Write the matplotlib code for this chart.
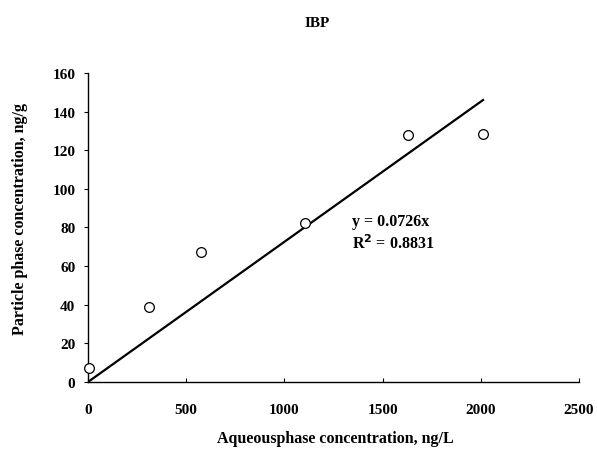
import numpy as np
import matplotlib.pyplot as plt

# values
aqueous = [5, 311, 577, 1104, 1628, 2011]          # ng/L
particle = [7, 39, 67.5, 82.5, 127.7, 128.2]       # ng/g
slope = 0.0726
r2 = 0.8831
xticks = [0, 500, 1000, 1500, 2000, 2500]
yticks = [0, 20, 40, 60, 80, 100, 120, 140, 160]

plt.rcParams['font.family'] = 'Liberation Serif'
plt.rcParams['font.weight'] = 'bold'

fig = plt.figure(figsize=(5.97, 4.52), dpi=100)
ax = fig.add_axes([0.1474, 0.1527, 0.8226, 0.6836])

# linear trend line through origin, up to the largest x
x_fit = np.array([0, max(aqueous)])
ax.plot(x_fit, slope * x_fit, color='black', lw=1.6, zorder=2)
ax.plot(aqueous, particle, 'o', ms=7, mfc='white', mec='black', mew=0.9,
        zorder=3, clip_on=False)

ax.set_xlim(0, 2500)
ax.set_ylim(0, 160)
ax.set_xticks(xticks)
ax.set_yticks(yticks)
ax.tick_params(axis='x', direction='in', length=3, pad=15, labelsize=11)
ax.tick_params(axis='y', direction='out', length=3, pad=6, labelsize=11)
for lbl in ax.get_xticklabels() + ax.get_yticklabels():
    lbl.set_fontweight('bold')

for side in ['top', 'right']:
    ax.spines[side].set_visible(False)
for side in ['left', 'bottom']:
    ax.spines[side].set_linewidth(1.0)

ax.text(1343, 83.4, f"y = {slope}x", fontsize=11.5, fontweight='bold',
        ha='left', va='center')
ax.text(1343, 72, f"R$^{{2}}$ = {r2}", fontsize=11.5, fontweight='bold',
        ha='left', va='center')

fig.text(0.531, 0.949, "IBP", ha='center', va='center', fontsize=11,
         fontweight='bold')
fig.text(0.562, 0.028, "Aqueousphase concentration, ng/L", ha='center',
         va='center', fontsize=11.5, fontweight='bold')
fig.text(0.034, 0.515, "Particle phase concentration, ng/g", ha='center',
         va='center', rotation=90, fontsize=11.5, fontweight='bold')

fig.savefig('out.png', dpi=100)
